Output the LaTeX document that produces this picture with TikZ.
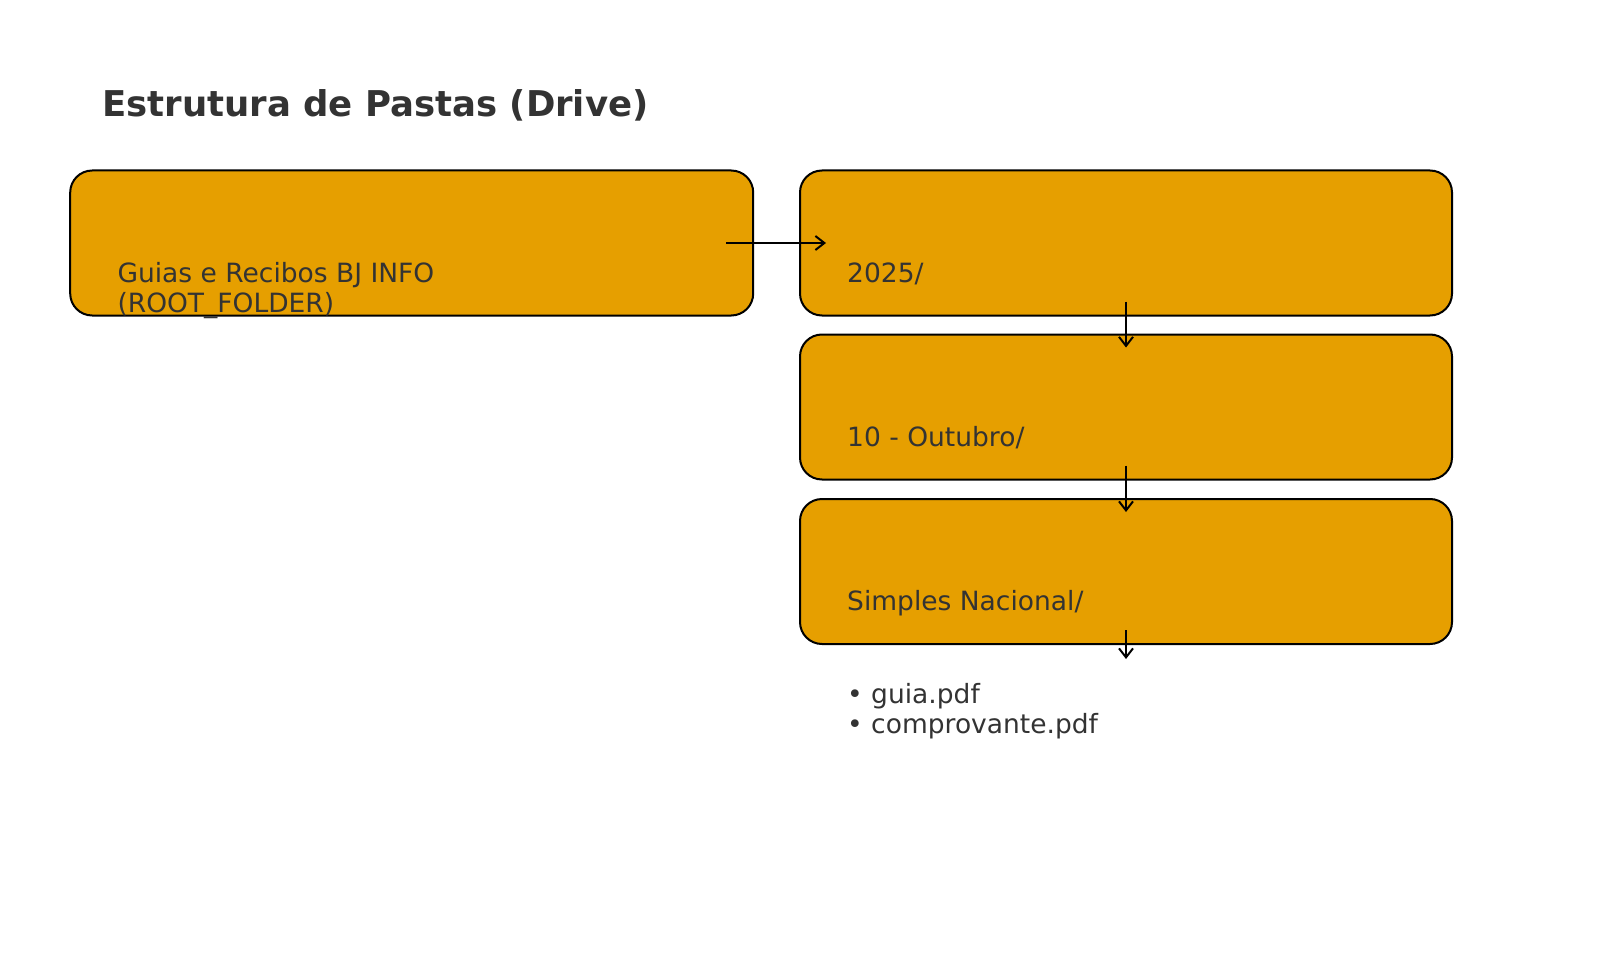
\documentclass[tikz,border=0pt]{standalone}
\usepackage{fontspec}
\setmainfont{DejaVu Sans}
\usetikzlibrary{arrows.meta,calc}
\definecolor{boxfill}{HTML}{E69F00}
\definecolor{txt}{HTML}{333333}
\begin{document}
\begin{tikzpicture}[x=1pt,y=-1pt,
  folder/.style={draw=black,line width=2pt,fill=boxfill,rounded corners=22pt,
    minimum height=145pt,inner sep=0pt},
  label/.style={anchor=base west,inner sep=0pt,text=txt,font=\fontsize{26.5}{30}\selectfont,align=left},
  conn/.style={draw=black,line width=2pt,-{Straight Barb[length=9pt,width=14pt,line width=2pt]}}]
\useasboundingbox (0,0) rectangle (1600,960);
\node[anchor=base west,inner sep=0pt,text=txt,font=\fontsize{35.5}{40}\selectfont\bfseries] (title) at (102,117) {Estrutura de Pastas (Drive)};
\node[folder,minimum width=683pt] (root) at (411.7,243) {};
\node[folder,minimum width=652pt] (y2025) at (1126,243) {};
\node[folder,minimum width=652pt] (oct) at (1126,407) {};
\node[folder,minimum width=652pt] (sn) at (1126,571.5) {};
\node[label] (rootlbl) at (117.3,312) {Guias e Recibos BJ INFO\\(ROOT\_FOLDER)};
\node[label] (ylbl) at (847,282) {2025/};
\node[label] (olbl) at (847,446) {10 - Outubro/};
\node[label] (slbl) at (847,610) {Simples Nacional/};
\node[label] (files) at (847,733) {• guia.pdf\\• comprovante.pdf};
\coordinate (a1s) at ($(root.east)+(-28,0)$);
\coordinate (a1e) at ($(y2025.west)+(27,0)$);
\coordinate (a2s) at ($(y2025.south)+(0,-15)$);
\coordinate (a2e) at ($(oct.north)+(0,14)$);
\coordinate (a3s) at ($(oct.south)+(0,-15)$);
\coordinate (a3e) at ($(sn.north)+(0,14)$);
\coordinate (a4s) at ($(sn.south)+(0,-15)$);
\coordinate (a4e) at ($(sn.south)+(0,14)$);
\draw[conn] (a1s) -- (a1e);
\draw[conn] (a2s) -- (a2e);
\draw[conn] (a3s) -- (a3e);
\draw[conn] (a4s) -- (a4e);
\end{tikzpicture}
\end{document}
